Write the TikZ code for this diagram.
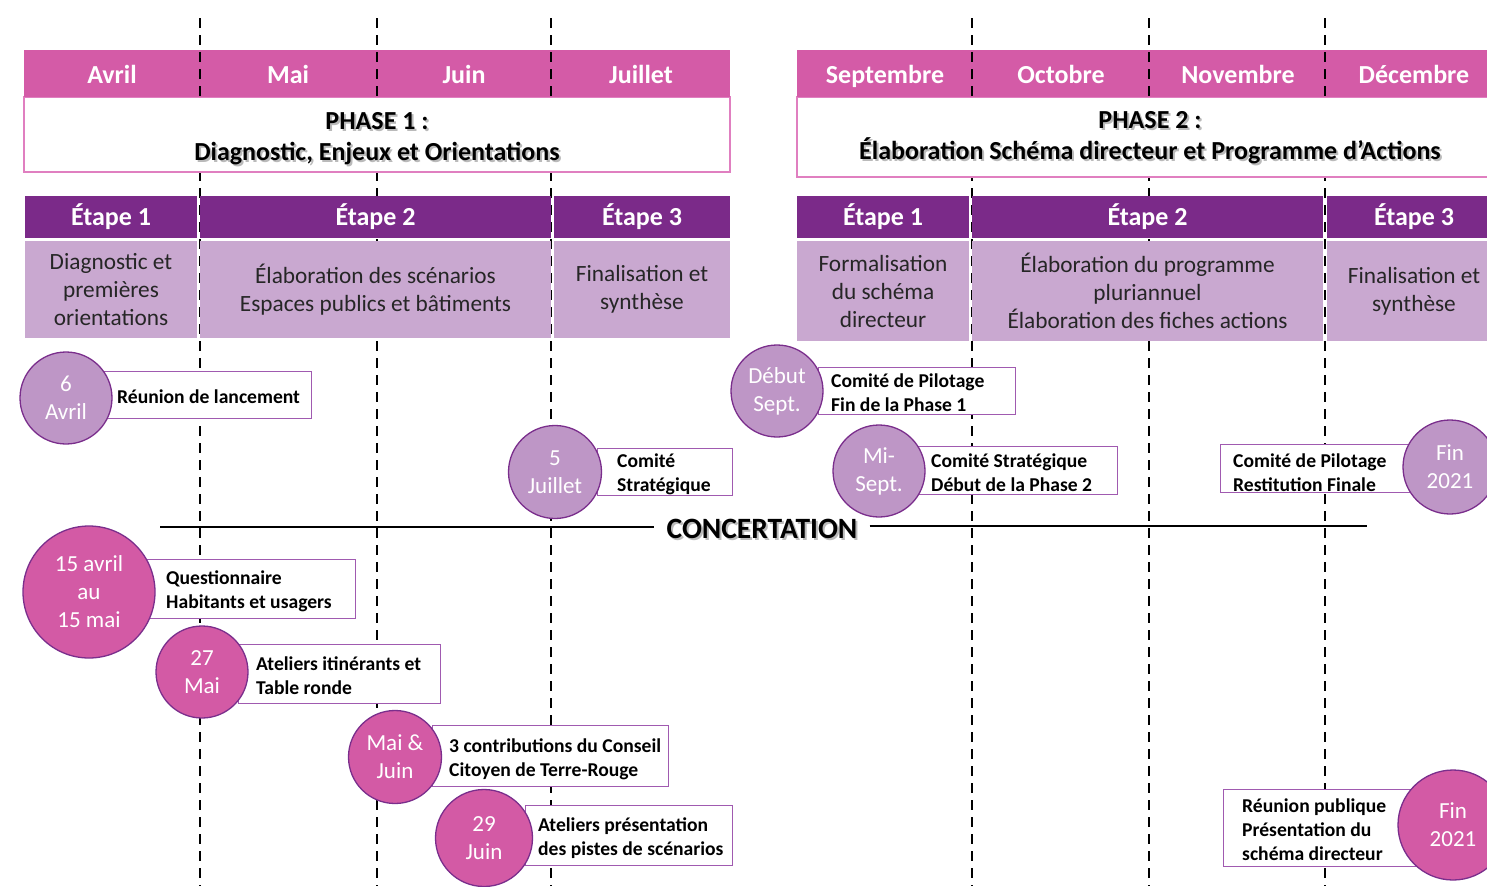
\documentclass[tikz,border=0pt]{standalone}
\usepackage{fontspec}
\setmainfont{Carlito}
\usepackage{xcolor}
\usepackage{tikz}
\usetikzlibrary{positioning,calc,shapes}

\definecolor{moisrose}{HTML}{D45BA7}
\definecolor{etapeviolet}{HTML}{7B2A89}
\definecolor{celluleviolet}{HTML}{C9A8D0}
\definecolor{rondclair}{HTML}{BE96C6}
\definecolor{rondfonce}{HTML}{D35AA5}
\definecolor{rondbord}{HTML}{7A2E8C}
\definecolor{boiteviolet}{HTML}{A05AB0}
\definecolor{phaserose}{HTML}{E07FC0}

\tikzset{
  tiret/.style={black, line width=2.4pt, dash pattern=on 10pt off 7pt},
  bande/.style={fill=moisrose, inner sep=0, minimum height=47},
  mois/.style={text=white, anchor=base, font=\bfseries\fontsize{26}{30}\selectfont},
  phasebox/.style={draw=phaserose, line width=1.5pt, fill=white, inner sep=0},
  phasetxt/.style={align=center, font=\bfseries\fontsize{26}{31}\selectfont},
  etapehead/.style={fill=etapeviolet, text=white, inner sep=0, minimum height=42,
    font=\bfseries\fontsize{26}{30}\selectfont},
  etapecell/.style={fill=celluleviolet, text=black!85, inner sep=0, align=center,
    font=\fontsize{23.3}{28}\selectfont},
  evbox/.style={draw=boiteviolet, line width=1.3pt, fill=white, inner sep=0, anchor=north west},
  evtxt/.style={align=left, inner sep=0, yshift=-2pt, font=\bfseries\fontsize{19.6}{24}\selectfont},
  rond/.style={circle, draw=rondbord, line width=1.3pt, text=white, inner sep=0, align=center,
    font=\fontsize{23}{28}\selectfont},
  clair/.style={rond, fill=rondclair},
  fonce/.style={rond, fill=rondfonce}
}

\begin{document}
\begin{tikzpicture}[x=1pt,y=-1pt]
    \useasboundingbox (0,0) rectangle (1487,886);

    % lignes des mois
    \foreach \x in {200,377,551,972,1149,1325}
        \draw[tiret] (\x,18) -- (\x,886);

    % phases
    \node[phasebox, minimum width=706, minimum height=75] (phase1) at (377,134.5) {};
    \node[phasebox, minimum width=706, minimum height=80] (phase2) at (1150,137) {};
    \node[bande, minimum width=706] (bande1) at (377,73.5) {};
    \node[bande, minimum width=706] (bande2) at (1150,73.5) {};

    \begin{scope}
        \clip (24,50) rectangle (730,97) (797,50) rectangle (1487,97);
        \foreach \x in {200,377,551,972,1149,1325}
            \draw[tiret] (\x,18) -- (\x,886);
    \end{scope}

    \foreach \x/\m [count=\i] in {112/Avril,288/Mai,464/Juin,641/Juillet,
            885/Septembre,1061/Octobre,1238/Novembre,1414/Décembre}
        \node[mois] (mois\i) at (\x,83.5) {\m};

    \node[phasetxt, text=black!45, opacity=.6] (phase1ombre) at (379,140.5)
        {PHASE 1 :\\Diagnostic, Enjeux et Orientations};
    \node[phasetxt] (phase1txt) at (377,138.5)
        {PHASE 1 :\\Diagnostic, Enjeux et Orientations};
    \node[phasetxt, text=black!45, opacity=.6] (phase2ombre) at (1152,140)
        {PHASE 2 :\\Élaboration Schéma directeur et Programme d’Actions};
    \node[phasetxt] (phase2txt) at (1150,138)
        {PHASE 2 :\\Élaboration Schéma directeur et Programme d’Actions};

    % etapes
    \node[etapehead, minimum width=172] (et1) at (111,217) {Étape 1};
    \node[etapehead, minimum width=351] (et2) at (375.5,217) {Étape 2};
    \node[etapehead, minimum width=176] (et3) at (642,217) {Étape 3};
    \node[etapehead, minimum width=172] (et4) at (883,217) {Étape 1};
    \node[etapehead, minimum width=351] (et5) at (1147.5,217) {Étape 2};
    \node[etapehead, minimum width=174] (et6) at (1414,217) {Étape 3};

    \node[etapecell, minimum width=172, minimum height=97] (desc1) at (111,289.5)
        {Diagnostic et\\premières\\orientations};
    \node[etapecell, minimum width=351, minimum height=97] (desc2) at (375.5,289.5)
        {Élaboration des scénarios\\Espaces publics et bâtiments};
    \node[etapecell, minimum width=176, minimum height=97] (desc3) at (642,289.5)
        {Finalisation et\\synthèse};
    \node[etapecell, minimum width=172, minimum height=100] (desc4) at (883,291)
        {Formalisation\\du schéma\\directeur};
    \node[etapecell, minimum width=351, minimum height=100] (desc5) at (1147.5,291)
        {Élaboration du programme\\pluriannuel\\Élaboration des fiches actions};
    \node[etapecell, minimum width=174, minimum height=100] (desc6) at (1414,291)
        {Finalisation et\\synthèse};

    % concertation
    \coordinate (concG) at (160,527);
    \coordinate (concD) at (1367,526);
    \node[font=\bfseries\fontsize{29.5}{32}\selectfont, text=black!45, opacity=.6] (concombre) at (764,531) {CONCERTATION};
    \node[font=\bfseries\fontsize{29.5}{32}\selectfont, inner xsep=12pt] (concert) at (762,529) {CONCERTATION};
    \draw[line width=2.8pt] (concG) -- (concG -| concert.west);
    \draw[line width=2.8pt] (concD -| concert.east) -- (concD);

    % pilotage
    \node[evbox, minimum width=207, minimum height=47] (b1) at (104,371) {};
    \node[evtxt, right=13pt of b1.west] (t1) {Réunion de lancement};
    \node[clair, minimum size=92] (c1) at (66,398) {6\\Avril};

    \node[evbox, minimum width=135, minimum height=47] (b2) at (597,448) {};
    \node[evtxt, right=20pt of b2.west] (t2) {Comité\\Stratégique};
    \node[clair, minimum size=93] (c2) at (555,472) {5\\Juillet};

    \node[evbox, minimum width=197, minimum height=47] (b3) at (818,367) {};
    \node[evtxt, right=13pt of b3.west] (t3) {Comité de Pilotage\\Fin de la Phase 1};
    \node[clair, minimum size=92] (c3) at (777,391) {Début\\Sept.};

    \node[evbox, minimum width=199, minimum height=48] (b4) at (918,446) {};
    \node[evtxt, right=13pt of b4.west] (t4) {Comité Stratégique\\Début de la Phase 2};
    \node[clair, minimum size=92] (c4) at (879,471) {Mi-\\Sept.};

    \node[evbox, minimum width=190, minimum height=48] (b5) at (1220,444) {};
    \node[evtxt, right=13pt of b5.west, yshift=-2pt] (t5) {Comité de Pilotage\\Restitution Finale};
    \node[clair, minimum size=94] (c5) at (1450,467) {Fin\\2021};

    % concertation : evenements
    \node[evbox, minimum width=210, minimum height=59] (b6) at (145,559) {};
    \node[evtxt, right=21pt of b6.west] (t6) {Questionnaire\\Habitants et usagers};
    \node[fonce, minimum size=132] (c6) at (89,592) {15 avril\\au\\15 mai};

    \node[evbox, minimum width=202, minimum height=59] (b7) at (238,644) {};
    \node[evtxt, right=18pt of b7.west] (t7) {Ateliers itinérants et\\Table ronde};
    \node[fonce, minimum size=92] (c7) at (202,672) {27\\Mai};

    \node[evbox, minimum width=236, minimum height=61] (b8) at (432,725) {};
    \node[evtxt, right=17pt of b8.west, yshift=-1pt] (t8) {3 contributions du Conseil\\Citoyen de Terre-Rouge};
    \node[fonce, minimum size=93] (c8) at (395,757) {Mai \&\\Juin};

    \node[evbox, minimum width=207, minimum height=60] (b9) at (525,805) {};
    \node[evtxt, right=13pt of b9.west] (t9) {Ateliers présentation\\des pistes de scénarios};
    \node[fonce, minimum size=97] (c9) at (484,838) {29\\Juin};

    \node[evbox, minimum width=200, minimum height=77] (b10) at (1223,789) {};
    \node[evtxt, right=19pt of b10.west] (t10) {Réunion publique\\Présentation du\\schéma directeur};
    \node[fonce, minimum size=110] (c10) at (1453,825) {Fin\\2021};
\end{tikzpicture}
\end{document}
